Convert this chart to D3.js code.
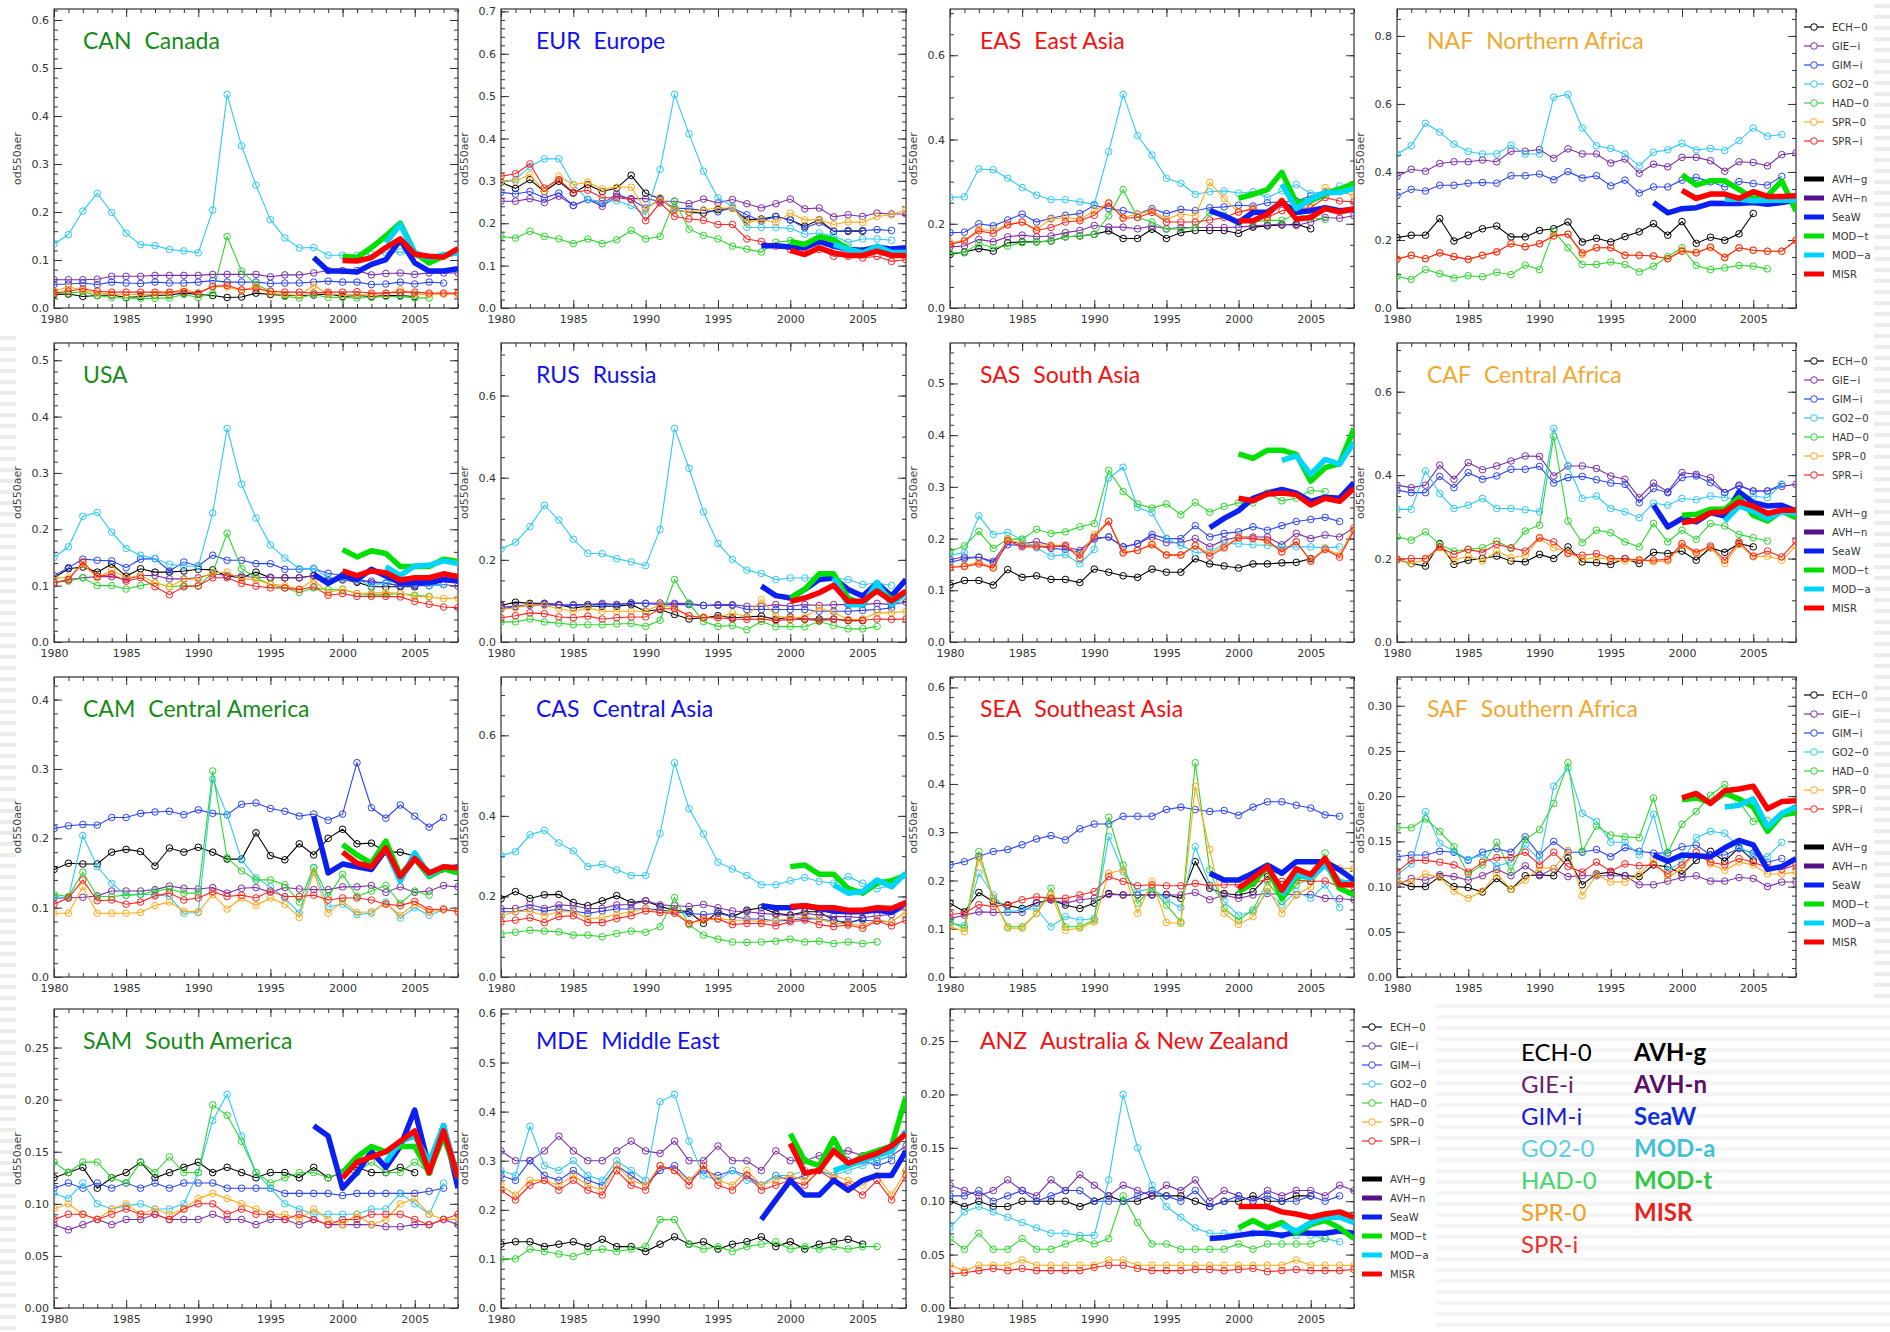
<!DOCTYPE html>
<html>
<head>
<meta charset="utf-8">
<title>Regional aerosol optical depth 1980–2008</title>
<script src="https://cdn.jsdelivr.net/npm/d3@7"></script>
<style>
  html, body { margin: 0; padding: 0; background: #fff; }
  svg { display: block; }
  .tick text { font-family: "DejaVu Sans", sans-serif; font-size: 11px; fill: #333; }
</style>
</head>
<body>
<svg id="chart" width="1890" height="1332"></svg>
<script>
// ---------------------------------------------------------------------------
// Annual mean od550aer, 1980–2008. Model series start in 1980; satellite
// records start in the year given in satStart.
// ---------------------------------------------------------------------------
const firstYear = 1980, lastYear = 2008;
const modelNames = ["ECH−0", "GIE−i", "GIM−i", "GO2−0", "HAD−0", "SPR−0", "SPR−i"];
const satNames = ["AVH−g", "AVH−n", "SeaW", "MOD−t", "MOD−a", "MISR"];
const satStart = [1998, 2000, 2003, 2000];          // SeaW, MOD-t, MOD-a, MISR
const xTickYears = [1980, 1985, 1990, 1995, 2000, 2005];

// Canada
const canEch = [.028,.029,.024,.026,.027,.022,.024,.026,.027,.031,.028,.026,.022,.023,.031,.028,.026,.026,.027,.029,.024,.026,.024,.026,.026,.024];
const canGie = [.059,.059,.059,.060,.066,.066,.066,.068,.068,.068,.068,.070,.070,.070,.070,.065,.069,.069,.073,.078,.078,.078,.069,.072,.073,.070,.073,.073,.073];
const canGim = [.049,.050,.052,.049,.054,.052,.051,.054,.052,.052,.054,.057,.054,.054,.054,.051,.052,.052,.054,.056,.054,.054,.049,.050,.054,.050,.054,.052];
const canGo2 = [.133,.153,.202,.239,.199,.156,.132,.130,.122,.119,.115,.204,.445,.338,.256,.184,.146,.125,.126,.110,.110,.110,.112,.115,.117,.110,.105,.110];
const canHad = [.030,.031,.034,.026,.022,.021,.020,.020,.021,.028,.022,.031,.149,.077,.049,.035,.024,.021,.028,.022,.022,.021,.022,.024,.024,.021,.021];
const canSpr0 = [.035,.044,.037,.031,.029,.028,.028,.029,.031,.040,.031,.045,.044,.036,.045,.031,.028,.026,.047,.029,.028,.027,.028,.030,.038,.029,.028,.029,.029];
const canSpri = [.031,.035,.040,.035,.033,.033,.033,.033,.033,.034,.031,.045,.047,.038,.040,.035,.033,.033,.031,.033,.033,.034,.031,.031,.033,.033,.031,.031,.031];
const canSeaw = [.105,.077,.077,.075,.091,.101,.142,.094,.077,.077,.082];
const canModt = [.108,.105,.126,.150,.177,.115,.094,.108,.119];
const canModa = [.136,.174,.115,.105,.110,.115];
const canMisr = [.099,.098,.105,.126,.144,.112,.108,.106,.124];

// Europe
const eurEch = [.297,.282,.303,.275,.299,.271,.291,.275,.283,.313,.271,.258,.232,.226,.224,.232,.236,.208,.210,.216,.208,.193,.208,.181,.181,.181];
const eurGie = [.252,.252,.258,.249,.264,.242,.256,.240,.264,.258,.258,.252,.252,.246,.257,.248,.256,.246,.236,.246,.257,.234,.236,.215,.220,.216,.224,.222,.222];
const eurGim = [.273,.269,.275,.260,.271,.242,.256,.246,.269,.256,.236,.256,.236,.234,.230,.227,.236,.220,.205,.216,.208,.189,.202,.181,.183,.183,.185,.183];
const eurGo2 = [.299,.303,.334,.352,.352,.291,.256,.252,.253,.242,.220,.327,.504,.411,.323,.260,.240,.190,.190,.190,.188,.174,.177,.170,.155,.163,.163,.160];
const eurHad = [.169,.165,.181,.169,.163,.152,.163,.152,.161,.183,.163,.169,.252,.186,.171,.163,.146,.139,.132,.155,.159,.147,.157,.147,.144,.135,.140];
const eurSpr0 = [.299,.299,.315,.275,.311,.291,.297,.281,.285,.285,.232,.260,.232,.226,.232,.236,.236,.202,.208,.202,.224,.208,.208,.197,.203,.202,.216,.220,.232];
const eurSpri = [.311,.317,.340,.283,.303,.273,.278,.260,.260,.256,.206,.248,.216,.210,.207,.197,.197,.163,.157,.146,.138,.130,.138,.122,.122,.118,.122,.110,.114];
const eurSeaw = [.147,.147,.144,.142,.157,.146,.138,.136,.144,.139,.142];
const eurModt = [.157,.150,.168,.161,.139,.130,.142,.126,.126];
const eurModa = [.150,.138,.130,.146,.131,.131];
const eurMisr = [.136,.126,.142,.130,.124,.124,.134,.124,.124];

// East Asia
const easEch = [.127,.133,.141,.135,.155,.157,.157,.159,.169,.171,.175,.183,.165,.165,.187,.165,.179,.184,.184,.184,.177,.192,.195,.197,.199,.188];
const easGie = [.145,.147,.163,.157,.169,.173,.169,.171,.179,.184,.196,.192,.192,.188,.195,.188,.191,.191,.191,.191,.192,.195,.197,.199,.196,.204,.215,.213,.219];
const easGim = [.179,.180,.200,.195,.209,.223,.204,.213,.220,.224,.244,.236,.231,.223,.236,.224,.234,.231,.238,.240,.244,.242,.250,.252,.254,.266,.274,.278];
const easGo2 = [.262,.264,.330,.328,.308,.286,.268,.257,.257,.252,.246,.371,.507,.409,.363,.308,.296,.270,.276,.278,.273,.276,.262,.278,.293,.272,.276,.290];
const easHad = [.131,.131,.153,.143,.147,.155,.157,.159,.169,.171,.175,.219,.281,.215,.204,.187,.188,.191,.227,.220,.203,.204,.208,.208,.223,.215,.210];
const easSpr0 = [.155,.161,.187,.183,.199,.204,.187,.211,.215,.211,.231,.250,.215,.223,.231,.211,.223,.219,.298,.260,.227,.238,.219,.254,.238,.246,.286,.278,.266];
const easSpri = [.151,.159,.183,.177,.197,.204,.184,.191,.204,.207,.220,.249,.213,.215,.227,.204,.204,.204,.209,.215,.228,.234,.215,.231,.236,.238,.262,.254,.252];
const easSeaw = [.231,.219,.203,.227,.228,.250,.227,.231,.238,.231,.234];
const easModt = [.260,.270,.281,.322,.250,.254,.270,.282,.296];
const easModa = [.294,.236,.258,.274,.274,.284];
const easMisr = [.207,.207,.223,.254,.211,.215,.236,.228,.236];

// Northern Africa
const nafEch = [.207,.214,.214,.263,.197,.214,.233,.241,.209,.209,.228,.233,.253,.194,.205,.194,.210,.224,.248,.214,.254,.190,.208,.199,.218,.278];
const nafGie = [.387,.408,.402,.425,.430,.430,.435,.430,.461,.461,.466,.440,.468,.453,.453,.426,.438,.396,.423,.415,.443,.443,.433,.402,.430,.428,.418,.451,.456];
const nafGim = [.330,.349,.344,.361,.361,.367,.369,.367,.389,.389,.394,.377,.401,.382,.389,.359,.376,.338,.356,.356,.376,.384,.371,.356,.372,.366,.361,.387];
const nafGo2 = [.453,.477,.543,.517,.482,.460,.453,.453,.479,.453,.453,.620,.628,.529,.477,.469,.453,.418,.458,.465,.484,.465,.469,.463,.492,.529,.505,.510];
const nafHad = [.093,.084,.113,.101,.088,.095,.092,.105,.098,.126,.113,.226,.177,.128,.128,.135,.128,.106,.123,.151,.177,.125,.113,.118,.125,.123,.115];
const nafSpr0 = [.145,.155,.145,.162,.151,.143,.155,.165,.189,.180,.189,.212,.217,.157,.177,.177,.155,.155,.153,.145,.170,.164,.177,.150,.177,.170,.167,.167,.197];
const nafSpri = [.143,.155,.145,.162,.151,.143,.155,.165,.189,.180,.189,.212,.217,.162,.177,.177,.155,.155,.153,.145,.167,.162,.179,.148,.177,.170,.167,.167,.200];
const nafSeaw = [.310,.280,.292,.295,.308,.307,.307,.310,.305,.310,.317];
const nafModt = [.392,.362,.374,.374,.349,.322,.330,.374,.285];
const nafModa = [.320,.320,.315,.317,.317,.317];
const nafMisr = [.346,.322,.335,.335,.322,.342,.328,.328,.330];

// USA
const usaEch = [.114,.130,.133,.124,.138,.117,.130,.124,.124,.126,.129,.128,.117,.114,.124,.114,.114,.114,.118,.108,.111,.106,.098,.098,.098,.098];
const usaGie = [.105,.111,.114,.116,.116,.111,.118,.118,.112,.112,.114,.121,.118,.117,.114,.115,.114,.114,.117,.110,.110,.108,.108,.104,.100,.102,.100,.102,.099];
const usaGim = [.118,.132,.147,.145,.144,.132,.147,.148,.126,.142,.135,.154,.145,.145,.139,.139,.129,.129,.130,.122,.118,.112,.105,.105,.099,.100,.100,.102];
const usaGo2 = [.150,.169,.223,.230,.195,.166,.154,.148,.138,.135,.134,.229,.379,.280,.220,.172,.149,.130,.131,.114,.112,.111,.099,.105,.110,.105,.100,.102];
const usaHad = [.106,.108,.114,.100,.100,.094,.100,.105,.098,.100,.099,.123,.193,.130,.114,.102,.096,.088,.096,.093,.093,.086,.084,.084,.086,.083,.081];
const usaSpr0 = [.114,.114,.138,.114,.128,.114,.118,.105,.098,.111,.112,.123,.124,.112,.110,.103,.100,.094,.110,.087,.094,.086,.087,.088,.086,.081,.080,.077,.078];
const usaSpri = [.105,.110,.142,.116,.120,.108,.114,.098,.084,.098,.100,.114,.114,.104,.099,.096,.096,.093,.098,.083,.086,.081,.081,.081,.080,.072,.067,.062,.061];
const usaSeaw = [.120,.104,.118,.111,.129,.117,.105,.105,.105,.111,.108];
const usaModt = [.164,.151,.162,.157,.134,.134,.134,.147,.143];
const usaModa = [.134,.118,.135,.136,.144,.139];
const usaMisr = [.126,.118,.126,.123,.110,.114,.114,.121,.116];

// Russia
const rusEch = [.089,.097,.094,.094,.091,.083,.087,.087,.087,.091,.075,.079,.067,.056,.059,.064,.059,.061,.063,.055,.061,.056,.056,.056,.052,.052];
const rusGie = [.085,.087,.091,.094,.091,.089,.091,.094,.091,.095,.094,.095,.094,.094,.089,.091,.091,.087,.087,.091,.087,.091,.089,.091,.091,.091,.094,.091,.097];
const rusGim = [.081,.086,.089,.091,.089,.091,.091,.091,.091,.095,.094,.091,.091,.091,.089,.089,.089,.079,.079,.079,.079,.079,.075,.075,.075,.077,.079,.083];
const rusGo2 = [.226,.243,.281,.333,.297,.250,.216,.215,.203,.195,.186,.274,.520,.423,.317,.240,.201,.175,.167,.152,.156,.156,.156,.156,.152,.140,.143,.138];
const rusHad = [.049,.049,.056,.049,.046,.042,.042,.042,.044,.045,.038,.053,.152,.094,.050,.038,.040,.030,.050,.037,.038,.037,.050,.040,.032,.032,.038];
const rusSpr0 = [.079,.083,.091,.089,.081,.075,.083,.075,.075,.075,.075,.091,.083,.064,.061,.059,.071,.061,.103,.063,.059,.061,.083,.072,.055,.056,.071,.071,.075];
const rusSpri = [.059,.064,.071,.069,.061,.059,.063,.056,.059,.061,.061,.081,.081,.064,.059,.059,.056,.055,.056,.052,.055,.055,.052,.055,.053,.053,.056,.055,.056];
const rusSeaw = [.136,.113,.107,.128,.152,.156,.128,.112,.143,.112,.152];
const rusModt = [.107,.128,.166,.166,.107,.091,.136,.103,.120];
const rusModa = [.156,.091,.091,.144,.091,.120];
const rusMisr = [.099,.107,.120,.138,.099,.099,.124,.100,.124];

// South Asia
const sasEch = [.110,.119,.119,.110,.140,.125,.128,.121,.121,.115,.141,.135,.128,.125,.141,.135,.135,.161,.151,.147,.143,.151,.151,.153,.154,.161];
const sasGie = [.160,.164,.164,.156,.195,.190,.194,.187,.184,.177,.201,.203,.184,.190,.203,.192,.192,.200,.184,.197,.203,.203,.203,.188,.210,.200,.207,.203,.221];
const sasGim = [.154,.161,.164,.153,.188,.187,.187,.181,.179,.173,.199,.203,.184,.190,.208,.200,.200,.225,.203,.210,.213,.223,.216,.225,.233,.237,.241,.233];
const sasGo2 = [.168,.173,.244,.208,.212,.197,.182,.166,.169,.151,.179,.317,.338,.260,.250,.200,.187,.173,.174,.190,.190,.188,.187,.184,.184,.184,.182,.184];
const sasHad = [.175,.186,.214,.181,.199,.199,.218,.210,.213,.223,.229,.332,.291,.267,.259,.267,.246,.270,.251,.262,.269,.269,.288,.273,.278,.293,.291];
const sasSpr0 = [.145,.148,.154,.145,.200,.190,.188,.187,.187,.168,.208,.234,.174,.177,.190,.169,.169,.187,.171,.184,.203,.200,.194,.175,.194,.158,.181,.168,.221];
const sasSpri = [.144,.146,.151,.143,.196,.184,.184,.184,.187,.162,.203,.233,.172,.177,.188,.168,.168,.186,.166,.182,.201,.200,.197,.174,.194,.156,.179,.164,.216];
const sasSeaw = [.221,.239,.254,.278,.288,.295,.288,.272,.280,.278,.308];
const sasModt = [.364,.355,.371,.371,.363,.311,.337,.345,.413];
const sasModa = [.351,.360,.324,.353,.344,.386];
const sasMisr = [.278,.273,.286,.288,.285,.265,.278,.272,.297];

// Central Africa
const cafEch = [.198,.188,.182,.236,.186,.196,.200,.206,.194,.192,.210,.200,.228,.192,.190,.186,.200,.188,.215,.212,.218,.196,.226,.215,.236,.228];
const cafGie = [.376,.370,.376,.424,.390,.430,.413,.422,.434,.446,.445,.398,.422,.422,.416,.398,.390,.346,.381,.360,.406,.402,.394,.358,.376,.362,.362,.373,.378];
const cafGim = [.364,.358,.358,.397,.370,.406,.390,.398,.414,.414,.421,.381,.394,.397,.389,.381,.378,.334,.368,.358,.394,.398,.382,.358,.374,.362,.362,.378];
const cafGo2 = [.318,.318,.410,.356,.320,.328,.344,.320,.320,.317,.312,.512,.422,.344,.350,.320,.312,.298,.333,.328,.344,.341,.350,.346,.341,.350,.346,.378];
const cafHad = [.252,.244,.264,.234,.218,.222,.226,.242,.224,.266,.280,.493,.290,.238,.268,.262,.240,.228,.284,.240,.268,.246,.284,.278,.258,.250,.242];
const cafSpr0 = [.200,.188,.198,.226,.196,.206,.194,.218,.202,.208,.248,.226,.215,.198,.202,.198,.194,.198,.192,.194,.232,.212,.226,.188,.234,.204,.206,.196,.230];
const cafSpri = [.198,.200,.200,.228,.210,.222,.215,.234,.226,.218,.250,.240,.212,.208,.212,.200,.200,.196,.196,.198,.236,.215,.230,.196,.240,.206,.218,.204,.242];
const cafSeaw = [.328,.276,.296,.288,.310,.302,.360,.334,.326,.328,.314];
const cafModt = [.304,.306,.318,.318,.346,.304,.290,.314,.298];
const cafModa = [.290,.326,.314,.296,.312,.308];
const cafMisr = [.286,.292,.310,.312,.336,.326,.308,.316,.316];

// Central America
const camEch = [.155,.164,.163,.163,.180,.184,.181,.160,.186,.180,.187,.180,.170,.170,.208,.175,.169,.192,.176,.200,.213,.192,.193,.180,.180,.174];
const camGie = [.114,.114,.115,.117,.124,.124,.124,.126,.131,.128,.127,.129,.121,.128,.129,.122,.129,.127,.126,.126,.130,.130,.132,.122,.130,.122,.124,.132,.130];
const camGim = [.214,.218,.220,.219,.230,.230,.236,.238,.239,.234,.241,.236,.234,.249,.251,.243,.239,.232,.235,.226,.235,.309,.244,.229,.248,.232,.216,.230];
const camGo2 = [.116,.114,.204,.159,.135,.118,.119,.119,.116,.092,.093,.285,.234,.169,.143,.130,.114,.092,.157,.101,.105,.090,.092,.108,.085,.100,.089,.097];
const camHad = [.119,.116,.151,.116,.116,.118,.119,.124,.127,.121,.121,.297,.172,.153,.140,.140,.133,.108,.158,.116,.148,.116,.124,.132,.106,.124,.118];
const camSpr0 = [.092,.092,.130,.092,.092,.092,.093,.103,.108,.095,.094,.119,.098,.114,.103,.114,.105,.086,.151,.092,.109,.093,.094,.106,.089,.105,.094,.097,.095];
const camSpri = [.105,.114,.140,.110,.111,.105,.108,.117,.121,.111,.114,.123,.116,.118,.114,.124,.116,.116,.118,.111,.114,.114,.111,.105,.103,.109,.097,.098,.094];
const camSeaw = [.232,.150,.163,.159,.155,.184,.143,.171,.150,.155,.159];
const camModt = [.191,.176,.164,.196,.147,.171,.145,.156,.150];
const camModa = [.184,.138,.179,.147,.159,.157];
const camMisr = [.180,.164,.159,.186,.145,.171,.150,.159,.157];

// Central Asia
const casEch = [.194,.212,.195,.204,.205,.185,.177,.189,.202,.185,.189,.175,.166,.162,.133,.162,.150,.166,.172,.158,.154,.162,.162,.141,.133,.145];
const casGie = [.170,.170,.180,.170,.179,.177,.170,.170,.179,.180,.189,.179,.177,.175,.180,.172,.164,.162,.158,.155,.152,.158,.154,.150,.150,.147,.152,.155,.172];
const casGim = [.162,.162,.170,.164,.168,.164,.158,.164,.169,.169,.170,.166,.162,.158,.155,.158,.150,.144,.144,.139,.141,.145,.144,.139,.137,.141,.139,.137];
const casGo2 = [.302,.311,.353,.364,.333,.313,.274,.280,.266,.252,.252,.356,.532,.418,.355,.285,.268,.252,.229,.229,.239,.247,.237,.233,.249,.233,.219,.227];
const casHad = [.108,.111,.116,.114,.112,.104,.104,.100,.108,.114,.111,.125,.197,.130,.104,.094,.087,.086,.087,.089,.094,.087,.089,.083,.087,.083,.087];
const casSpr0 = [.152,.162,.164,.152,.162,.162,.145,.147,.155,.162,.170,.160,.164,.133,.141,.145,.141,.141,.137,.141,.144,.150,.144,.133,.133,.127,.141,.137,.162];
const casSpri = [.137,.141,.147,.135,.150,.152,.135,.135,.145,.152,.164,.160,.158,.133,.145,.144,.130,.133,.133,.127,.137,.141,.130,.125,.129,.121,.139,.127,.141];
const casSeaw = [.177,.172,.172,.177,.170,.164,.162,.162,.166,.160,.185];
const casModt = [.274,.278,.255,.255,.220,.208,.233,.239,.253];
const casModa = [.229,.208,.212,.241,.224,.258];
const casMisr = [.175,.177,.172,.172,.166,.166,.172,.170,.185];

// Southeast Asia
const seaEch = [.153,.135,.175,.156,.148,.142,.154,.160,.149,.142,.153,.173,.170,.170,.170,.171,.163,.239,.184,.173,.170,.177,.208,.191,.215,.199];
const seaGie = [.121,.128,.135,.134,.134,.134,.153,.160,.153,.160,.163,.171,.170,.170,.171,.170,.170,.175,.160,.170,.163,.170,.173,.171,.171,.171,.163,.162,.160];
const seaGim = [.232,.239,.250,.260,.264,.274,.286,.293,.284,.307,.317,.317,.333,.333,.333,.347,.352,.347,.343,.345,.335,.352,.363,.363,.356,.350,.336,.333];
const seaGo2 = [.111,.107,.215,.170,.135,.139,.142,.104,.125,.118,.121,.291,.218,.177,.184,.160,.144,.270,.191,.156,.128,.135,.177,.149,.177,.163,.191,.144];
const seaHad = [.114,.101,.260,.163,.104,.104,.132,.184,.104,.104,.118,.331,.232,.153,.184,.149,.114,.444,.222,.142,.118,.139,.198,.156,.191,.205,.257];
const seaSpr0 = [.104,.094,.246,.163,.101,.101,.132,.173,.097,.101,.114,.215,.222,.132,.198,.113,.111,.395,.264,.132,.109,.125,.184,.132,.170,.187,.239,.225,.225];
const seaSpri = [.130,.132,.150,.146,.150,.160,.166,.163,.163,.170,.177,.208,.198,.189,.191,.189,.189,.194,.189,.191,.191,.194,.203,.198,.201,.198,.199,.187,.187];
const seaSeaw = [.215,.201,.201,.215,.232,.215,.239,.239,.239,.222,.201];
const seaModt = [.177,.194,.229,.163,.208,.208,.239,.184,.170];
const seaModa = [.170,.213,.205,.232,.198,.191];
const seaMisr = [.184,.205,.229,.180,.224,.212,.246,.191,.191];

// Southern Africa
const safEch = [.105,.100,.100,.111,.100,.099,.094,.109,.097,.112,.113,.112,.132,.102,.114,.116,.112,.111,.124,.122,.114,.129,.139,.128,.143,.129];
const safGie = [.102,.109,.107,.113,.111,.107,.112,.119,.112,.123,.112,.120,.111,.112,.112,.112,.112,.102,.102,.106,.110,.112,.106,.106,.110,.109,.100,.105,.105];
const safGim = [.133,.135,.135,.139,.138,.129,.138,.142,.138,.155,.135,.150,.138,.138,.141,.133,.143,.139,.137,.137,.144,.146,.135,.135,.142,.137,.127,.131];
const safGo2 = [.113,.125,.183,.148,.139,.130,.135,.123,.127,.146,.129,.211,.231,.181,.172,.149,.149,.135,.180,.118,.127,.154,.161,.159,.144,.135,.133,.149];
const safHad = [.165,.165,.175,.161,.144,.114,.124,.149,.117,.152,.163,.192,.237,.139,.167,.157,.155,.154,.198,.138,.169,.183,.201,.213,.194,.172,.173];
const safSpr0 = [.105,.105,.114,.110,.095,.087,.095,.114,.097,.107,.121,.120,.140,.090,.113,.105,.105,.113,.130,.110,.120,.138,.125,.118,.127,.124,.114,.114,.116];
const safSpri = [.116,.129,.129,.127,.124,.116,.127,.132,.132,.138,.124,.138,.122,.116,.127,.117,.125,.123,.124,.114,.124,.138,.127,.124,.131,.127,.121,.119,.124];
const safSeaw = [.135,.128,.135,.134,.133,.143,.151,.146,.119,.122,.131];
const safModt = [.196,.198,.193,.203,.197,.188,.161,.179,.182];
const safModa = [.188,.190,.197,.166,.181,.188];
const safMisr = [.198,.203,.192,.206,.208,.211,.186,.194,.195];

// South America
const samEch = [.125,.130,.135,.115,.125,.130,.140,.125,.130,.135,.140,.130,.135,.130,.125,.130,.130,.125,.135,.125,.130,.135,.130,.130,.135,.130];
const samGie = [.080,.075,.080,.085,.080,.085,.085,.090,.085,.085,.085,.090,.085,.085,.080,.085,.085,.080,.085,.080,.080,.080,.080,.078,.078,.080,.080,.085,.080];
const samGim = [.115,.120,.115,.120,.115,.120,.115,.120,.115,.120,.120,.120,.115,.115,.115,.115,.110,.110,.110,.110,.108,.110,.110,.110,.110,.110,.112,.115];
const samGo2 = [.110,.105,.120,.100,.095,.098,.100,.095,.095,.100,.130,.180,.205,.165,.130,.115,.100,.095,.090,.090,.090,.090,.095,.095,.110,.100,.090,.120];
const samHad = [.140,.130,.140,.140,.125,.120,.140,.130,.145,.130,.130,.195,.185,.160,.130,.120,.125,.130,.130,.125,.130,.130,.140,.130,.130,.140,.130];
const samSpr0 = [.095,.100,.090,.085,.095,.100,.090,.095,.090,.095,.105,.110,.105,.100,.095,.090,.090,.085,.095,.085,.080,.090,.080,.085,.100,.105,.090,.085,.085];
const samSpri = [.085,.090,.090,.085,.090,.095,.090,.090,.085,.095,.100,.100,.090,.095,.090,.090,.085,.090,.085,.080,.085,.085,.090,.090,.090,.085,.080,.085,.090];
const samSeaw = [.175,.165,.115,.130,.150,.135,.155,.190,.135,.175,.115];
const samModt = [.130,.145,.155,.150,.155,.155,.130,.165,.125];
const samModa = [.140,.160,.165,.140,.175,.125];
const samMisr = [.125,.140,.145,.150,.160,.170,.130,.170,.125];

// Middle East
const mdeEch = [.130,.135,.135,.125,.130,.135,.125,.140,.125,.125,.115,.130,.145,.130,.135,.120,.130,.135,.145,.125,.135,.120,.130,.135,.140,.130];
const mdeGie = [.320,.300,.300,.320,.350,.320,.300,.300,.320,.340,.320,.315,.340,.300,.300,.330,.300,.300,.280,.320,.300,.300,.310,.320,.320,.310,.300,.310,.330];
const mdeGim = [.270,.260,.300,.270,.260,.280,.260,.250,.290,.270,.250,.280,.290,.260,.280,.270,.280,.270,.250,.270,.260,.270,.280,.270,.300,.300,.290,.300];
const mdeGo2 = [.280,.270,.370,.290,.280,.300,.270,.260,.300,.280,.260,.420,.435,.340,.270,.260,.280,.260,.250,.270,.270,.280,.280,.270,.280,.290,.300,.310];
const mdeHad = [.100,.100,.120,.115,.110,.105,.115,.120,.115,.120,.125,.180,.180,.130,.120,.125,.115,.125,.130,.135,.120,.125,.120,.125,.120,.125,.125];
const mdeSpr0 = [.250,.230,.260,.260,.250,.270,.250,.240,.290,.260,.250,.290,.280,.260,.290,.260,.250,.280,.250,.260,.270,.260,.290,.270,.260,.250,.270,.230,.280];
const mdeSpri = [.240,.220,.250,.260,.240,.260,.240,.230,.280,.250,.240,.290,.280,.250,.290,.250,.240,.270,.240,.250,.260,.250,.280,.260,.250,.230,.260,.220,.270];
const mdeSeaw = [.180,.220,.260,.230,.230,.260,.240,.260,.270,.270,.320];
const mdeModt = [.355,.300,.290,.345,.290,.310,.320,.330,.430];
const mdeModa = [.280,.290,.300,.310,.320,.360];
const mdeMisr = [.335,.275,.280,.320,.295,.305,.315,.330,.355];

// Australia & New Zealand
const anzEch = [.100,.095,.100,.095,.095,.100,.100,.100,.100,.095,.100,.105,.100,.100,.105,.105,.105,.100,.095,.100,.100,.105,.100,.100,.105,.105];
const anzGie = [.115,.110,.105,.110,.120,.110,.105,.120,.110,.125,.115,.105,.115,.110,.105,.115,.110,.120,.100,.110,.105,.100,.110,.105,.110,.110,.105,.115,.110];
const anzGim = [.105,.105,.110,.100,.105,.110,.100,.105,.110,.110,.100,.100,.100,.105,.110,.105,.100,.110,.095,.100,.105,.100,.105,.100,.100,.105,.100,.105];
const anzGo2 = [.075,.090,.095,.090,.085,.080,.075,.070,.070,.068,.068,.120,.200,.150,.115,.095,.085,.075,.070,.070,.070,.070,.070,.068,.068,.068,.065,.062];
const anzHad = [.065,.055,.070,.055,.055,.065,.055,.055,.060,.065,.060,.065,.105,.080,.060,.060,.055,.055,.055,.055,.060,.055,.060,.060,.060,.060,.065];
const anzSpr0 = [.040,.035,.040,.040,.040,.045,.040,.040,.040,.040,.040,.045,.045,.040,.040,.040,.040,.040,.040,.040,.040,.040,.040,.040,.045,.040,.040,.040,.040];
const anzSpri = [.032,.033,.035,.037,.035,.037,.035,.035,.035,.035,.038,.040,.040,.037,.035,.035,.035,.036,.036,.035,.036,.037,.034,.035,.036,.035,.035,.035,.036];
const anzSeaw = [.065,.066,.068,.070,.070,.068,.071,.070,.070,.072,.070];
const anzModt = [.075,.082,.075,.080,.070,.078,.082,.075,.065];
const anzModa = [.078,.072,.080,.085,.085,.080];
const anzMisr = [.095,.095,.095,.090,.088,.085,.088,.090,.085];

// ---------------------------------------------------------------------------
// Styling
// ---------------------------------------------------------------------------
const modelColors = ["#000000", "#7b2fa8", "#2b45f0", "#2ec8f5", "#2ed62e", "#ffa815", "#ff2222"];
const satColors = ["#000000", "#55108a", "#0a20f0", "#00e000", "#00d4f8", "#ff0000"];
const GREEN = "#178a17", BLUE = "#1010f0", RED = "#f21010", ORANGE = "#f0a832";

// One entry per region, in reading order
const panels = [
  { code: "CAN", name: "Canada",          color: GREEN,  step: 0.1,  models: [canEch, canGie, canGim, canGo2, canHad, canSpr0, canSpri], sats: [canSeaw, canModt, canModa, canMisr] },
  { code: "EUR", name: "Europe",          color: BLUE,   step: 0.1,  models: [eurEch, eurGie, eurGim, eurGo2, eurHad, eurSpr0, eurSpri], sats: [eurSeaw, eurModt, eurModa, eurMisr] },
  { code: "EAS", name: "East Asia",       color: RED,    step: 0.2,  models: [easEch, easGie, easGim, easGo2, easHad, easSpr0, easSpri], sats: [easSeaw, easModt, easModa, easMisr] },
  { code: "NAF", name: "Northern Africa", color: ORANGE, step: 0.2,  models: [nafEch, nafGie, nafGim, nafGo2, nafHad, nafSpr0, nafSpri], sats: [nafSeaw, nafModt, nafModa, nafMisr], legend: true },
  { code: "USA", name: "",                color: GREEN,  step: 0.1,  models: [usaEch, usaGie, usaGim, usaGo2, usaHad, usaSpr0, usaSpri], sats: [usaSeaw, usaModt, usaModa, usaMisr] },
  { code: "RUS", name: "Russia",          color: BLUE,   step: 0.2,  models: [rusEch, rusGie, rusGim, rusGo2, rusHad, rusSpr0, rusSpri], sats: [rusSeaw, rusModt, rusModa, rusMisr] },
  { code: "SAS", name: "South Asia",      color: RED,    step: 0.1,  models: [sasEch, sasGie, sasGim, sasGo2, sasHad, sasSpr0, sasSpri], sats: [sasSeaw, sasModt, sasModa, sasMisr] },
  { code: "CAF", name: "Central Africa",  color: ORANGE, step: 0.2,  models: [cafEch, cafGie, cafGim, cafGo2, cafHad, cafSpr0, cafSpri], sats: [cafSeaw, cafModt, cafModa, cafMisr], legend: true },
  { code: "CAM", name: "Central America", color: GREEN,  step: 0.1,  models: [camEch, camGie, camGim, camGo2, camHad, camSpr0, camSpri], sats: [camSeaw, camModt, camModa, camMisr] },
  { code: "CAS", name: "Central Asia",    color: BLUE,   step: 0.2,  models: [casEch, casGie, casGim, casGo2, casHad, casSpr0, casSpri], sats: [casSeaw, casModt, casModa, casMisr] },
  { code: "SEA", name: "Southeast Asia",  color: RED,    step: 0.1,  models: [seaEch, seaGie, seaGim, seaGo2, seaHad, seaSpr0, seaSpri], sats: [seaSeaw, seaModt, seaModa, seaMisr] },
  { code: "SAF", name: "Southern Africa", color: ORANGE, step: 0.05, models: [safEch, safGie, safGim, safGo2, safHad, safSpr0, safSpri], sats: [safSeaw, safModt, safModa, safMisr], legend: true },
  { code: "SAM", name: "South America",   color: GREEN,  step: 0.05, models: [samEch, samGie, samGim, samGo2, samHad, samSpr0, samSpri], sats: [samSeaw, samModt, samModa, samMisr] },
  { code: "MDE", name: "Middle East",     color: BLUE,   step: 0.1,  models: [mdeEch, mdeGie, mdeGim, mdeGo2, mdeHad, mdeSpr0, mdeSpri], sats: [mdeSeaw, mdeModt, mdeModa, mdeMisr] },
  { code: "ANZ", name: "Australia & New Zealand", color: RED, step: 0.05, models: [anzEch, anzGie, anzGim, anzGo2, anzHad, anzSpr0, anzSpri], sats: [anzSeaw, anzModt, anzModa, anzMisr], legend: true }
];

// Grid of plot frames
const colLeft = [54, 501, 950, 1397];
const colRight = [458, 906, 1354, 1796];
const rowTop = [9, 343, 677, 1009];
const rowBottom = [308, 642, 977, 1308];
const titleInset = [29, 35, 30, 30];

const svg = d3.select("#chart");

// faint horizontal banding along the page margins
function bands(x0, x1, y0, y1, fill) {
  svg.append("g").selectAll("rect")
    .data(d3.range(y0, y1, 11))
    .join("rect")
    .attr("x", x0).attr("width", x1 - x0)
    .attr("y", d => d).attr("height", 4)
    .attr("fill", fill);
}
bands(0, 16, 336, 1332, "#ececec");
bands(1874, 1890, 4, 1000, "#ececec");
bands(1436, 1890, 1004, 1332, "#f4f4f4");

function drawPanel(p, i) {
  const col = i % 4, row = Math.floor(i / 4);
  const left = colLeft[col], top = rowTop[row];
  const w = colRight[col] - left, h = rowBottom[row] - top;

  const values = p.models.flat().concat(p.sats.flat());
  const ymax = d3.max(values) * 1.4;

  const x = d3.scaleLinear().domain([firstYear, lastYear]).range([0, w]);
  const y = d3.scaleLinear().domain([0, ymax]).range([h, 0]);

  const g = svg.append("g").attr("transform", `translate(${left},${top})`);

  const clipId = `clip-${p.code}`;
  g.append("clipPath").attr("id", clipId)
    .append("rect").attr("width", w).attr("height", h);

  // axes: IDL-style box with inward ticks on all four sides
  const nMinor = Math.abs(p.step - 0.2) < 1e-9 ? 4 : 5;
  const major = d3.range(0, ymax + 1e-9, p.step).map(v => +v.toFixed(4));
  const minor = d3.range(0, ymax + 1e-9, p.step / nMinor).map(v => +v.toFixed(4));
  const fmt = p.step < 0.1 ? d3.format(".2f") : d3.format(".1f");
  const years = d3.range(firstYear, lastYear + 1);

  const axisStyle = sel => {
    sel.select(".domain").remove();
    sel.selectAll(".tick line").attr("stroke", "#333").attr("stroke-width", 1);
  };

  g.append("g").call(d3.axisLeft(y).tickValues(minor).tickSize(-4).tickFormat("")).call(axisStyle);
  g.append("g").call(d3.axisLeft(y).tickValues(major).tickSize(-8).tickPadding(5).tickFormat(fmt)).call(axisStyle);
  g.append("g").attr("transform", `translate(${w},0)`)
    .call(d3.axisRight(y).tickValues(minor).tickSize(-4).tickFormat("")).call(axisStyle);
  g.append("g").attr("transform", `translate(${w},0)`)
    .call(d3.axisRight(y).tickValues(major).tickSize(-8).tickFormat("")).call(axisStyle);

  g.append("g").attr("transform", `translate(0,${h})`)
    .call(d3.axisBottom(x).tickValues(years).tickSize(-4).tickFormat("")).call(axisStyle);
  g.append("g").attr("transform", `translate(0,${h})`)
    .call(d3.axisBottom(x).tickValues(xTickYears).tickSize(-8).tickPadding(7).tickFormat(d3.format("d"))).call(axisStyle);
  g.append("g")
    .call(d3.axisTop(x).tickValues(years).tickSize(-4).tickFormat("")).call(axisStyle);
  g.append("g")
    .call(d3.axisTop(x).tickValues(xTickYears).tickSize(-8).tickFormat("")).call(axisStyle);

  g.append("rect").attr("width", w).attr("height", h)
    .attr("fill", "none").attr("stroke", "#333").attr("stroke-width", 1.2);

  // y-axis title
  g.append("text")
    .attr("transform", `translate(-33,${h / 2}) rotate(-90)`)
    .attr("text-anchor", "middle")
    .attr("font-family", "DejaVu Sans, sans-serif")
    .attr("font-size", 11).attr("fill", "#444")
    .text("od550aer");

  const plot = g.append("g").attr("clip-path", `url(#${clipId})`);

  // model runs: thin lines with open circles
  p.models.forEach((series, m) => {
    const pts = series.map((v, k) => [firstYear + k, v]);
    plot.append("path")
      .attr("d", d3.line().x(d => x(d[0])).y(d => y(d[1]))(pts))
      .attr("fill", "none").attr("stroke", modelColors[m]).attr("stroke-width", 1.1);
    plot.append("g").selectAll("circle").data(pts).join("circle")
      .attr("cx", d => x(d[0])).attr("cy", d => y(d[1])).attr("r", 3.3)
      .attr("fill", "none").attr("stroke", modelColors[m]).attr("stroke-width", 1);
  });

  // satellite retrievals: thick lines
  p.sats.forEach((series, s) => {
    const pts = series.map((v, k) => [satStart[s] + k, v]);
    plot.append("path")
      .attr("d", d3.line().x(d => x(d[0])).y(d => y(d[1]))(pts))
      .attr("fill", "none").attr("stroke", satColors[s + 2])
      .attr("stroke-width", 5.5).attr("stroke-linejoin", "round");
  });

  // region title
  const title = g.append("g").attr("transform", `translate(${titleInset[col]},40)`)
    .attr("font-family", "Lato, 'Noto Sans', sans-serif")
    .attr("font-size", 23).attr("fill", p.color);
  const codeText = title.append("text").text(p.code);
  if (p.name) {
    const cw = codeText.node().getComputedTextLength();
    title.append("text").attr("x", cw + 13).text(p.name);
  }

  if (p.legend) drawSmallLegend(left + w, top);
}

function drawSmallLegend(x0, y0) {
  const lg = svg.append("g").attr("transform", `translate(${x0 + 8},${y0 + 18})`)
    .attr("font-family", "DejaVu Sans, sans-serif").attr("font-size", 10).attr("fill", "#333");
  modelNames.forEach((name, m) => {
    const yy = m * 19;
    lg.append("line").attr("x1", 0).attr("x2", 20).attr("y1", yy).attr("y2", yy)
      .attr("stroke", modelColors[m]).attr("stroke-width", 1.2);
    lg.append("circle").attr("cx", 10).attr("cy", yy).attr("r", 3.3)
      .attr("fill", "#fff").attr("stroke", modelColors[m]).attr("stroke-width", 1);
    lg.append("text").attr("x", 28).attr("y", yy + 3.5).text(name);
  });
  satNames.forEach((name, s) => {
    const yy = (s + 8) * 19;
    lg.append("line").attr("x1", 0).attr("x2", 20).attr("y1", yy).attr("y2", yy)
      .attr("stroke", satColors[s]).attr("stroke-width", 5);
    lg.append("text").attr("x", 28).attr("y", yy + 3.5).text(name);
  });
}

panels.forEach(drawPanel);

// Key to the abbreviations, bottom right
const keyModelColors = ["#000000", "#6b1f6b", "#1a1adb", "#5ecde0", "#45d56b", "#f0a020", "#f03030"];
const keySatNames = ["AVH-g", "AVH-n", "SeaW", "MOD-a", "MOD-t", "MISR"];
const keySatColors = ["#000000", "#5a0f6a", "#1030e0", "#45c0d8", "#30c840", "#e82020"];
const key = svg.append("g").attr("font-family", "Lato, 'Noto Sans', sans-serif").attr("font-size", 24);
modelNames.forEach((name, m) => {
  key.append("text").attr("x", 1521).attr("y", 1061 + m * 32)
    .attr("fill", keyModelColors[m]).text(name.replace("−", "-"));
});
keySatNames.forEach((name, s) => {
  key.append("text").attr("x", 1634).attr("y", 1061 + s * 32)
    .attr("font-weight", 700).attr("fill", keySatColors[s]).text(name);
});
</script>
</body>
</html>
